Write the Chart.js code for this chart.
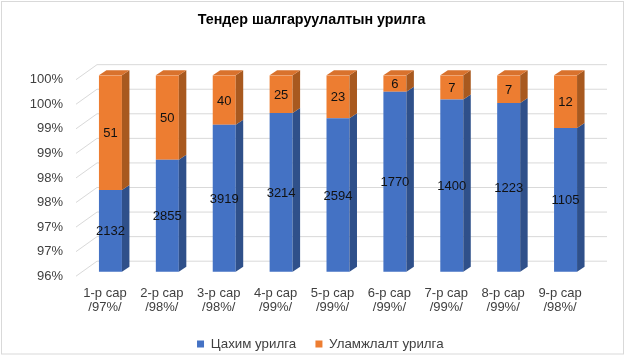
<!DOCTYPE html>
<html>
<head>
<meta charset="utf-8">
<script src="https://cdn.jsdelivr.net/npm/chart.js@4/dist/chart.umd.min.js"></script>
<style>
html,body{margin:0;padding:0;background:#fff;}
#wrap{width:627px;height:356px;position:relative;}
</style>
</head>
<body>
<div id="wrap"><canvas id="c" width="627" height="356"></canvas></div>
<script>
// ---- data ----
const months = ['1-р сар','2-р сар','3-р сар','4-р сар','5-р сар','6-р сар','7-р сар','8-р сар','9-р сар'];
const rateLabels = ['/97%/','/98%/','/98%/','/99%/','/99%/','/99%/','/99%/','/99%/','/98%/'];
const electronicInvites = [2132, 2855, 3919, 3214, 2594, 1770, 1400, 1223, 1105];
const traditionalInvites = [51, 50, 40, 25, 23, 6, 7, 7, 12];
const seriesNames = ['Цахим урилга', 'Уламжлалт урилга'];
const chartTitle = 'Тендер шалгаруулалтын урилга';
const yMin = 96, yMax = 100, yStep = 0.5;

// ---- derived ----
const totals = electronicInvites.map((v, i) => v + traditionalInvites[i]);
const electronicPct = electronicInvites.map((v, i) => v / totals[i] * 100);
const traditionalPct = traditionalInvites.map((v, i) => v / totals[i] * 100);
const rawValues = [electronicInvites, traditionalInvites];

const FONT = "'Liberation Sans', Arial, sans-serif";
const faceColors = ['#4472C4', '#ED7D31'];
const sideColors = ['#2F508A', '#A8591F'];
const topColors = ['#3D67B1', '#D9722D'];
const DX = 7.5, DY = 5;

const framePlugin = {
  id: 'frame',
  beforeDraw(chart) {
    const ctx = chart.ctx;
    ctx.save();
    ctx.fillStyle = '#fff';
    ctx.fillRect(0, 0, chart.width, chart.height);
    ctx.strokeStyle = '#D9D9D9';
    ctx.lineWidth = 1;
    ctx.strokeRect(1.5, 1.5, 622, 352.5);
    ctx.restore();
  }
};

const legendShiftPlugin = {
  id: 'legendShift',
  afterLayout(chart) {
    if (chart.legend) { chart.legend.left += 8.8; chart.legend.right += 8.8; }
  }
};

const gridPlugin = {
  id: 'grid3d',
  beforeDatasetsDraw(chart) {
    const ctx = chart.ctx;
    const ys = chart.scales.y;
    const a = chart.chartArea;
    ctx.save();
    ctx.strokeStyle = '#D9D9D9';
    ctx.lineWidth = 1;
    ys.ticks.forEach(t => {
      const y = ys.getPixelForValue(t.value);
      ctx.beginPath();
      ctx.moveTo(a.left - 6, y + 4.5);
      ctx.lineTo(a.left + 15, y - 10.5);
      ctx.lineTo(a.right + 13, y - 10.5);
      ctx.stroke();
    });
    ctx.restore();
  }
};

const bars3dPlugin = {
  id: 'bars3d',
  afterDatasetsDraw(chart) {
    const ctx = chart.ctx;
    const a = chart.chartArea;
    const n = chart.data.datasets.length;
    ctx.save();
    for (let d = 0; d < n; d++) {
      const meta = chart.getDatasetMeta(d);
      meta.data.forEach(el => {
        const p = el.getProps(['x', 'y', 'base', 'width'], true);
        const left = p.x - p.width / 2, right = p.x + p.width / 2;
        const top = Math.max(Math.min(p.y, p.base), a.top);
        const bottom = Math.min(Math.max(p.y, p.base), a.bottom);
        if (bottom <= top) return;
        ctx.fillStyle = sideColors[d];
        ctx.beginPath();
        ctx.moveTo(right, top);
        ctx.lineTo(right + DX, top - DY);
        ctx.lineTo(right + DX, bottom - DY);
        ctx.lineTo(right, bottom);
        ctx.closePath();
        ctx.fill();
        if (d === n - 1) {
          ctx.fillStyle = topColors[d];
          ctx.beginPath();
          ctx.moveTo(left, top);
          ctx.lineTo(left + DX, top - DY);
          ctx.lineTo(right + DX, top - DY);
          ctx.lineTo(right, top);
          ctx.closePath();
          ctx.fill();
        }
      });
    }
    // data labels
    ctx.font = '13px ' + FONT;
    ctx.fillStyle = '#111';
    ctx.textAlign = 'center';
    ctx.textBaseline = 'middle';
    for (let d = 0; d < n; d++) {
      const meta = chart.getDatasetMeta(d);
      meta.data.forEach((el, i) => {
        const p = el.getProps(['x', 'y', 'base'], true);
        const top = Math.max(Math.min(p.y, p.base), a.top);
        const bottom = Math.min(Math.max(p.y, p.base), a.bottom);
        ctx.fillText(String(rawValues[d][i]), p.x, (top + bottom) / 2 + 1);
      });
    }
    ctx.restore();
  }
};

new Chart(document.getElementById('c'), {
  type: 'bar',
  data: {
    labels: months.map((m, i) => [m, rateLabels[i]]),
    datasets: [
      { label: seriesNames[0], data: electronicPct, backgroundColor: faceColors[0], borderWidth: 0,
        barPercentage: 0.404, categoryPercentage: 1 },
      { label: seriesNames[1], data: traditionalPct, backgroundColor: faceColors[1], borderWidth: 0,
        barPercentage: 0.404, categoryPercentage: 1 }
    ]
  },
  options: {
    responsive: false,
    animation: false,
    devicePixelRatio: 1,
    layout: { padding: { left: 29, right: 33, top: 0, bottom: 0 } },
    plugins: {
      title: {
        display: true, text: chartTitle, color: '#000',
        font: { family: FONT, size: 14.3, weight: 'bold' },
        padding: { top: 11, bottom: 47 }
      },
      legend: {
        position: 'bottom',
        maxHeight: 38,
        labels: {
          boxWidth: 7, boxHeight: 7, padding: 19.3, color: '#404040',
          font: { family: FONT, size: 13.3 }
        }
      },
      tooltip: { enabled: false }
    },
    scales: {
      x: {
        stacked: true,
        grid: { display: false, drawTicks: false },
        border: { display: false },
        ticks: { color: '#404040', font: { family: FONT, size: 13, lineHeight: 1.05 },
                 padding: 15, labelOffset: -5.5, maxRotation: 0, autoSkip: false },
        afterFit(s) { s.height = 46.3; }
      },
      y: {
        stacked: true, min: yMin, max: yMax,
        grid: { display: false, drawTicks: false },
        border: { display: false },
        ticks: { stepSize: yStep, color: '#404040', font: { family: FONT, size: 13 },
                 padding: 19, labelOffset: 4.5,
                 callback: v => Math.round(v) + '%' },
        afterFit(s) { s.width = 53; }
      }
    }
  },
  plugins: [framePlugin, legendShiftPlugin, gridPlugin, bars3dPlugin]
});
</script>
</body>
</html>
